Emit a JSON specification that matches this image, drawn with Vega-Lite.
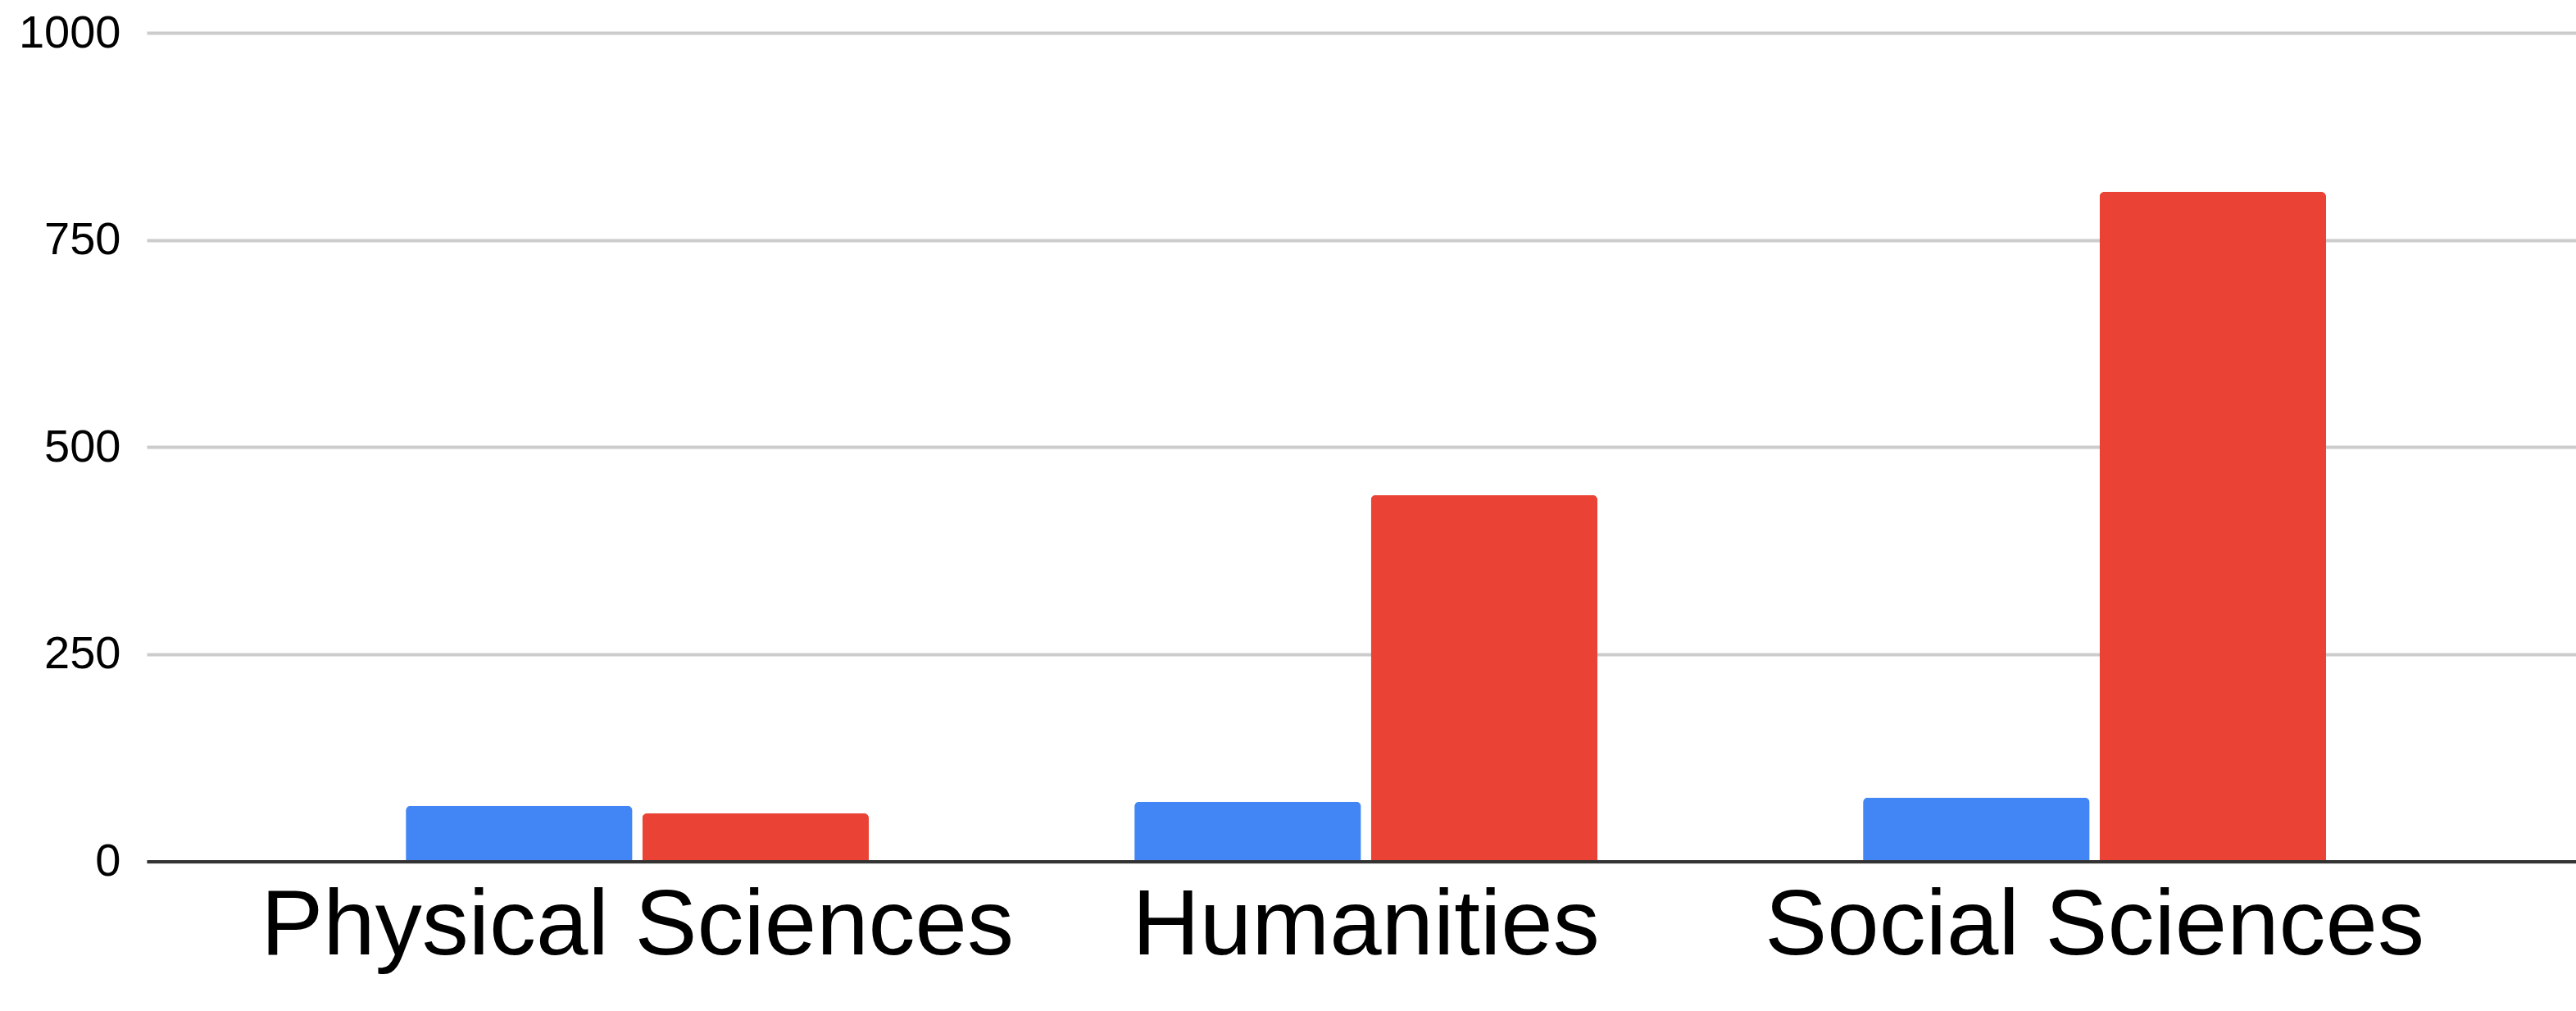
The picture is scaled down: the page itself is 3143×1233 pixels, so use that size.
{
  "$schema": "https://vega.github.io/schema/vega-lite/v6.json",
  "width": 2964,
  "height": 1010.5,
  "autosize": "none",
  "padding": {"left": 179, "top": 40, "right": 0, "bottom": 182.5},
  "background": "white",
  "config": {
    "view": {"stroke": null},
    "font": "Liberation Sans"
  },
  "data": {
    "values": [
      {"field": "Physical Sciences", "series": "Series 1", "value": 67},
      {"field": "Physical Sciences", "series": "Series 2", "value": 58},
      {"field": "Humanities", "series": "Series 1", "value": 72},
      {"field": "Humanities", "series": "Series 2", "value": 442},
      {"field": "Social Sciences", "series": "Series 1", "value": 77},
      {"field": "Social Sciences", "series": "Series 2", "value": 808}
    ]
  },
  "mark": {"type": "bar", "cornerRadiusTopLeft": 6, "cornerRadiusTopRight": 6},
  "encoding": {
    "x": {
      "field": "field",
      "type": "nominal",
      "sort": ["Physical Sciences", "Humanities", "Social Sciences"],
      "scale": {"paddingInner": 0.3645, "paddingOuter": 0.3493, "align": 0.509},
      "axis": {
        "title": null,
        "labelAngle": 0,
        "labelFont": "Liberation Sans",
        "labelFontSize": 114,
        "labelColor": "#000000",
        "labelBaseline": "alphabetic",
        "labelPadding": 113,
        "labelLimit": 0,
        "labelOverlap": false,
        "ticks": false,
        "grid": false,
        "domainColor": "#333333",
        "domainWidth": 4,
        "zindex": 1
      }
    },
    "xOffset": {
      "field": "series",
      "type": "nominal",
      "scale": {"paddingInner": 0.0416, "paddingOuter": 0}
    },
    "y": {
      "field": "value",
      "type": "quantitative",
      "scale": {"domain": [0, 1000], "nice": false},
      "axis": {
        "title": null,
        "values": [0, 250, 500, 750, 1000],
        "format": "d",
        "labelFont": "Liberation Sans",
        "labelFontSize": 56,
        "labelColor": "#000000",
        "labelPadding": 32,
        "ticks": false,
        "domain": false,
        "gridColor": "#cccccc",
        "gridWidth": 4
      }
    },
    "color": {
      "field": "series",
      "type": "nominal",
      "scale": {"range": ["#4285F4", "#EA4335"]},
      "legend": null
    }
  }
}
